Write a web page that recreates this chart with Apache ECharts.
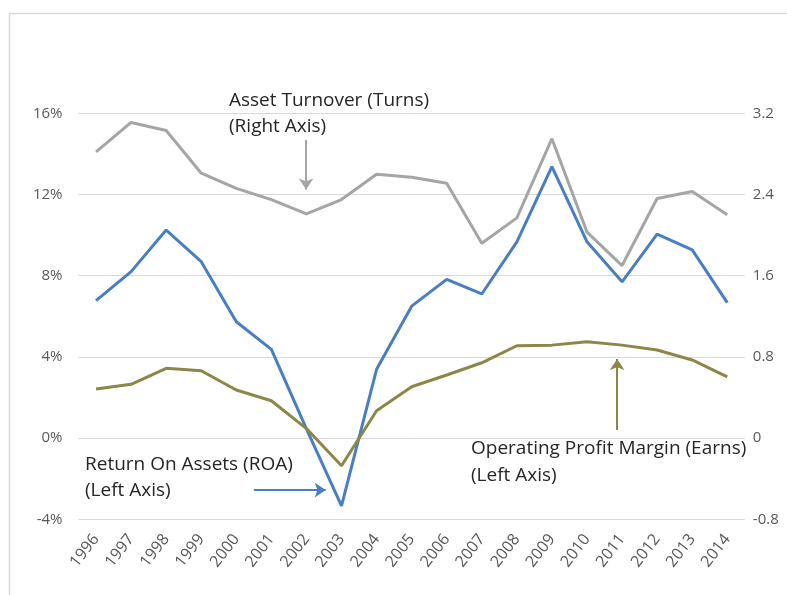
<!DOCTYPE html>
<html>
<head>
<meta charset="utf-8">
<script src="https://cdn.jsdelivr.net/npm/echarts@6/dist/echarts.min.js"></script>
<style>html,body{margin:0;padding:0;background:#fff;}#c{width:787px;height:595px;}</style>
</head>
<body>
<div id="c"></div>
<script>
const years = ['1996','1997','1998','1999','2000','2001','2002','2003','2004','2005','2006','2007','2008','2009','2010','2011','2012','2013','2014'];
const roa = [6.77, 8.2, 10.25, 8.69, 5.73, 4.37, 0.45, -3.34, 3.39, 6.5, 7.82, 7.1, 9.67, 13.37, 9.67, 7.7, 10.05, 9.27, 6.67];
const opMargin = [2.42, 2.65, 3.44, 3.32, 2.37, 1.84, 0.47, -1.36, 1.35, 2.53, 3.11, 3.71, 4.55, 4.58, 4.75, 4.58, 4.34, 3.85, 3.02];
const turnover = [2.82, 3.11, 3.03, 2.61, 2.46, 2.35, 2.21, 2.35, 2.6, 2.57, 2.51, 1.92, 2.17, 2.95, 2.03, 1.7, 2.36, 2.43, 2.2];
const leftTicks = {min: -4, max: 16, interval: 4};
const rightTicks = {min: -0.8, max: 3.2, interval: 0.8};

const cBlue = '#4a7ec2', cGray = '#a5a5a5', cOlive = '#8c8747';
const font = '"Open Sans", sans-serif';
const arrowSeries = (color, from, to) => ({
  type: 'line', xAxisIndex: 1, yAxisIndex: 0, data: [], silent: true,
  itemStyle: {color: color},
  markLine: {
    silent: true, animation: false, label: {show: false},
    symbol: ['none', 'arrow'], symbolSize: 11,
    lineStyle: {color: color, width: 2, type: 'solid'},
    itemStyle: {color: color},
    emphasis: {disabled: true},
    data: [[{coord: from}, {coord: to}]]
  }
});

const chart = echarts.init(document.getElementById('c'));
chart.setOption({
  animation: false,
  grid: {left: 78.5, right: 42.2, top: 113.3, bottom: 75.7},
  xAxis: [{
    type: 'category', data: years, boundaryGap: true,
    axisLine: {show: false}, axisTick: {show: false},
    axisLabel: {rotate: 52, margin: 17, color: '#595959', fontSize: 16, fontFamily: font}
  }, {
    type: 'value', min: -0.5, max: 18.5, show: false
  }],
  yAxis: [{
    type: 'value', min: leftTicks.min, max: leftTicks.max, interval: leftTicks.interval,
    axisLine: {show: false}, axisTick: {show: false},
    splitLine: {lineStyle: {color: '#d9d9d9', width: 1}},
    axisLabel: {formatter: v => v + '%', color: '#595959', fontSize: 15, fontFamily: font, margin: 16}
  }, {
    type: 'value', min: rightTicks.min, max: rightTicks.max, interval: rightTicks.interval,
    axisLine: {show: false}, axisTick: {show: false}, splitLine: {show: false},
    axisLabel: {formatter: v => (Math.round(v * 10) / 10).toString(), color: '#595959', fontSize: 15, fontFamily: font, margin: 8}
  }],
  series: [
    {name: 'Asset Turnover', type: 'line', yAxisIndex: 1, data: turnover, symbol: 'none',
     lineStyle: {color: cGray, width: 3}, itemStyle: {color: cGray}, z: 2},
    {name: 'ROA', type: 'line', data: roa, symbol: 'none',
     lineStyle: {color: cBlue, width: 3}, itemStyle: {color: cBlue}, z: 3},
    {name: 'Operating Profit Margin', type: 'line', data: opMargin, symbol: 'none',
     lineStyle: {color: cOlive, width: 3}, itemStyle: {color: cOlive}, z: 3},
    arrowSeries(cGray, [5.99, 14.68], [5.99, 12.25]),
    arrowSeries(cBlue, [4.5, -2.56], [6.55, -2.56]),
    arrowSeries(cOlive, [14.86, 0.4], [14.86, 3.9])
  ],
  graphic: [
    {type: 'rect', left: 7, top: 11, shape: {width: 800, height: 600},
     style: {fill: 'none', stroke: '#d9d9d9', lineWidth: 1.5}, silent: true},
    {type: 'text', left: 229, top: 88,
     style: {text: 'Asset Turnover (Turns)\n(Right Axis)', fill: '#262626', font: '19px ' + font, lineHeight: 26}},
    {type: 'text', left: 85, top: 452,
     style: {text: 'Return On Assets (ROA)\n(Left Axis)', fill: '#262626', font: '19px ' + font, lineHeight: 26}},
    {type: 'text', left: 471, top: 435,
     style: {text: 'Operating Profit Margin (Earns)\n(Left Axis)', fill: '#262626', font: '19px ' + font, lineHeight: 27}}
  ]
});
</script>
</body>
</html>
